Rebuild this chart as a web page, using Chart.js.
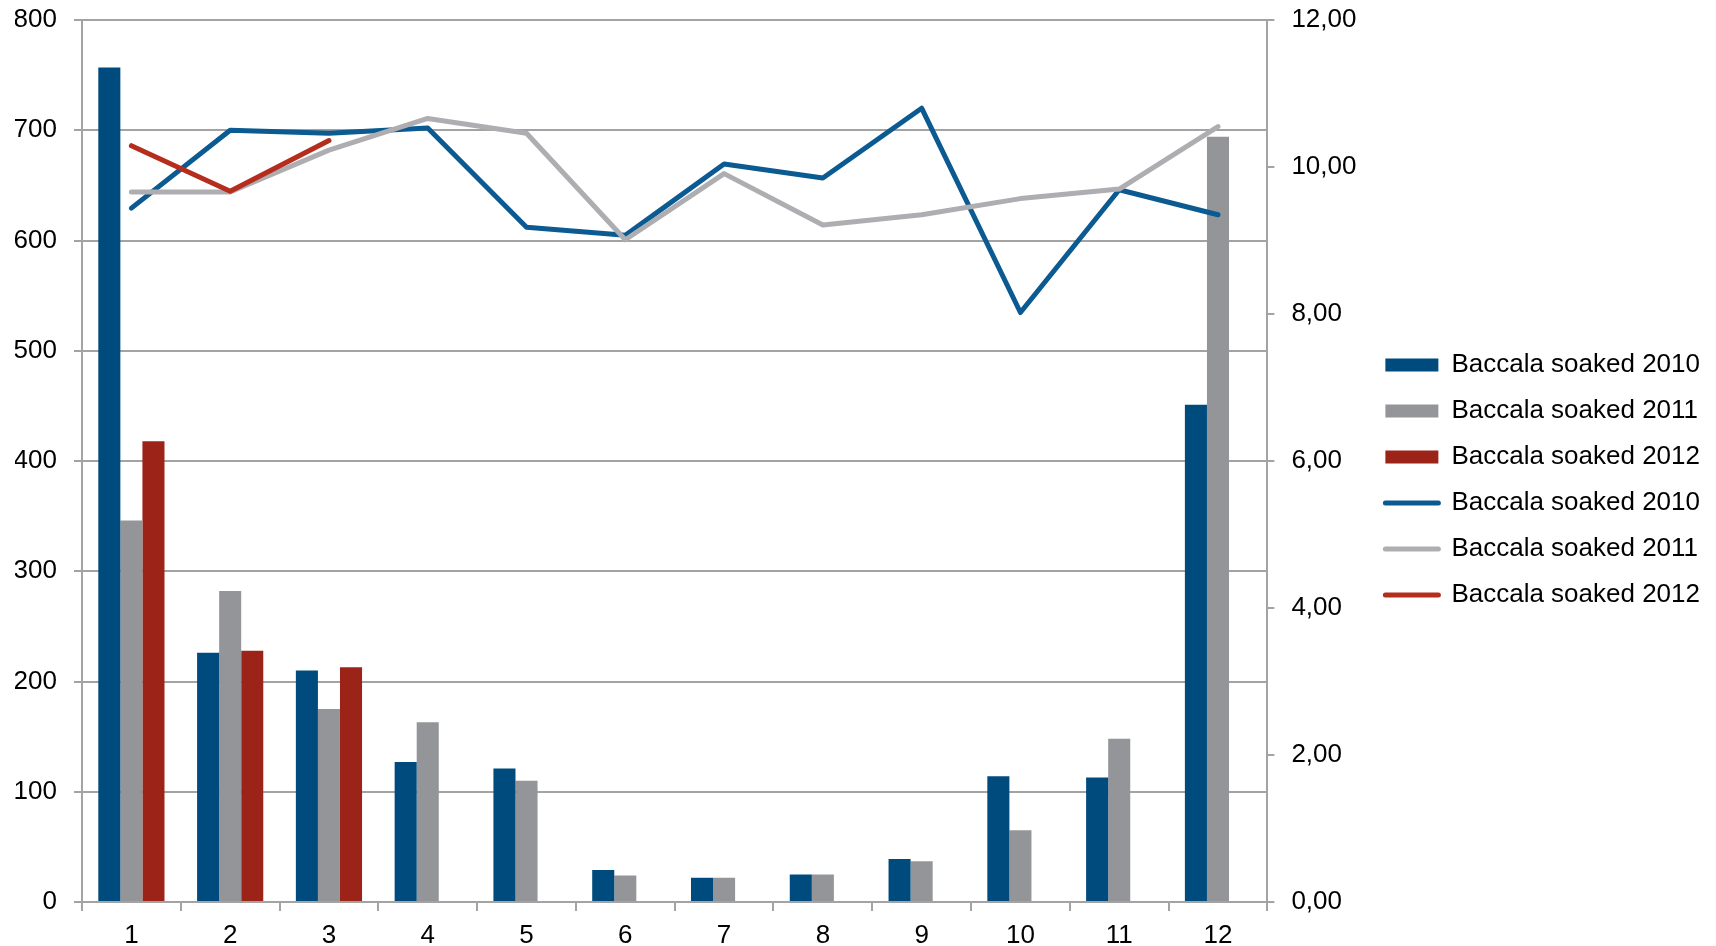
<!DOCTYPE html>
<html>
<head>
<meta charset="utf-8">
<script src="https://cdn.jsdelivr.net/npm/chart.js@4.4.0/dist/chart.umd.min.js"></script>
<style>
  html, body { margin: 0; padding: 0; background: #fff; }
  #wrap { width: 1716px; height: 946px; position: relative; }
</style>
</head>
<body>
<div id="wrap"><canvas id="myChart"></canvas></div>
<script>
// months
const months = ['1', '2', '3', '4', '5', '6', '7', '8', '9', '10', '11', '12']

// bars (left axis)
const soaked2010 = [757, 226, 210, 127, 121, 29, 22, 25, 39, 114, 113, 451]
const soaked2011 = [346, 282, 175, 163, 110, 24, 22, 25, 37, 65, 148, 694]
const soaked2012 = [418, 228, 213, null, null, null, null, null, null, null, null, null]

// lines (right axis)
const price2010 = [9.44, 10.50, 10.46, 10.53, 9.18, 9.07, 10.04, 9.85, 10.80, 8.02, 9.69, 9.35]
const price2011 = [9.66, 9.66, 10.23, 10.66, 10.46, 9.01, 9.91, 9.21, 9.35, 9.57, 9.70, 10.55]
const price2012 = [10.29, 9.67, 10.36, null, null, null, null, null, null, null, null, null]

const leftTicks = [0, 800, 100]
const rightTicks = [0, 12, 2]

const gridGray = '#a3a3a3'
const fontFamily = '"Liberation Sans", Arial, sans-serif'

Chart.defaults.font.family = fontFamily
Chart.defaults.color = '#000'

function barSet(label, data, color) {
    return {
        type: 'bar',
        label: label,
        data: data,
        backgroundColor: color,
        borderWidth: 0,
        yAxisID: 'y',
        order: 3,
        categoryPercentage: 0.67,
        barPercentage: 1.0
    }
}

function lineSet(label, data, color, order) {
    return {
        type: 'line',
        label: label,
        data: data,
        borderColor: color,
        backgroundColor: color,
        borderWidth: 5,
        borderCapStyle: 'round',
        borderJoinStyle: 'round',
        pointRadius: 0,
        tension: 0,
        yAxisID: 'y1',
        order: order
    }
}

// fixed axis sizes so the plot sits where the original one does
function fitSide(width) {
    return (scale) => {
        scale.width = width
        scale.paddingTop = 20
        scale.paddingBottom = 0
    }
}

const ctx = document.getElementById('myChart')
const myChart = new Chart(ctx, {
    data: {
        labels: months,
        datasets: [
            barSet('Baccala soaked 2010', soaked2010, '#004b7d'),
            barSet('Baccala soaked 2011', soaked2011, '#949599'),
            barSet('Baccala soaked 2012', soaked2012, '#9b2318'),
            lineSet('Baccala soaked 2010', price2010, '#0b5a91', 2),
            lineSet('Baccala soaked 2011', price2011, '#aeaeb2', 1),
            lineSet('Baccala soaked 2012', price2012, '#b52d1d', 0)
        ]
    },
    options: {
        responsive: true,
        maintainAspectRatio: false,
        animation: false,
        layout: { padding: { left: 15, right: 6, top: 14, bottom: 0 } },
        plugins: {
            tooltip: { enabled: false },
            legend: {
                position: 'right',
                align: 'center',
                maxWidth: 420,
                labels: {
                    usePointStyle: true,
                    pointStyleWidth: 53,
                    boxHeight: 13,
                    padding: 20,
                    color: '#000',
                    font: { size: 26 },
                    generateLabels: (chart) => chart.data.datasets.map((ds, i) => ({
                        text: ds.label,
                        fillStyle: ds.type === 'line' ? ds.borderColor : ds.backgroundColor,
                        strokeStyle: ds.type === 'line' ? ds.borderColor : ds.backgroundColor,
                        lineWidth: ds.type === 'line' ? 5 : 0,
                        lineCap: 'round',
                        pointStyle: ds.type === 'line' ? 'line' : 'rect',
                        hidden: !chart.isDatasetVisible(i),
                        datasetIndex: i,
                        fontColor: '#000'
                    }))
                }
            }
        },
        scales: {
            x: {
                type: 'category',
                offset: true,
                grid: {
                    offset: true,
                    drawOnChartArea: false,
                    drawTicks: true,
                    tickLength: 9,
                    color: gridGray,
                    lineWidth: 2
                },
                border: { color: gridGray, width: 2 },
                ticks: { font: { size: 26, lineHeight: 1 }, color: '#000', padding: 12, maxRotation: 0 },
                afterFit: (scale) => { scale.height = 44 }
            },
            y: {
                position: 'left',
                min: leftTicks[0],
                max: leftTicks[1],
                grid: { color: gridGray, lineWidth: 2, tickLength: 8 },
                border: { color: gridGray, width: 2 },
                ticks: { stepSize: leftTicks[2], font: { size: 26 }, color: '#000', padding: 17 },
                afterFit: fitSide(67)
            },
            y1: {
                position: 'right',
                min: rightTicks[0],
                max: rightTicks[1],
                grid: { drawOnChartArea: false, color: gridGray, lineWidth: 2, tickLength: 7 },
                border: { color: gridGray, width: 2 },
                ticks: {
                    stepSize: rightTicks[2],
                    font: { size: 26 },
                    color: '#000',
                    padding: 17,
                    callback: (v) => v.toFixed(2).replace('.', ',')
                },
                afterFit: fitSide(98)
            }
        }
    }
})
</script>
</body>
</html>
